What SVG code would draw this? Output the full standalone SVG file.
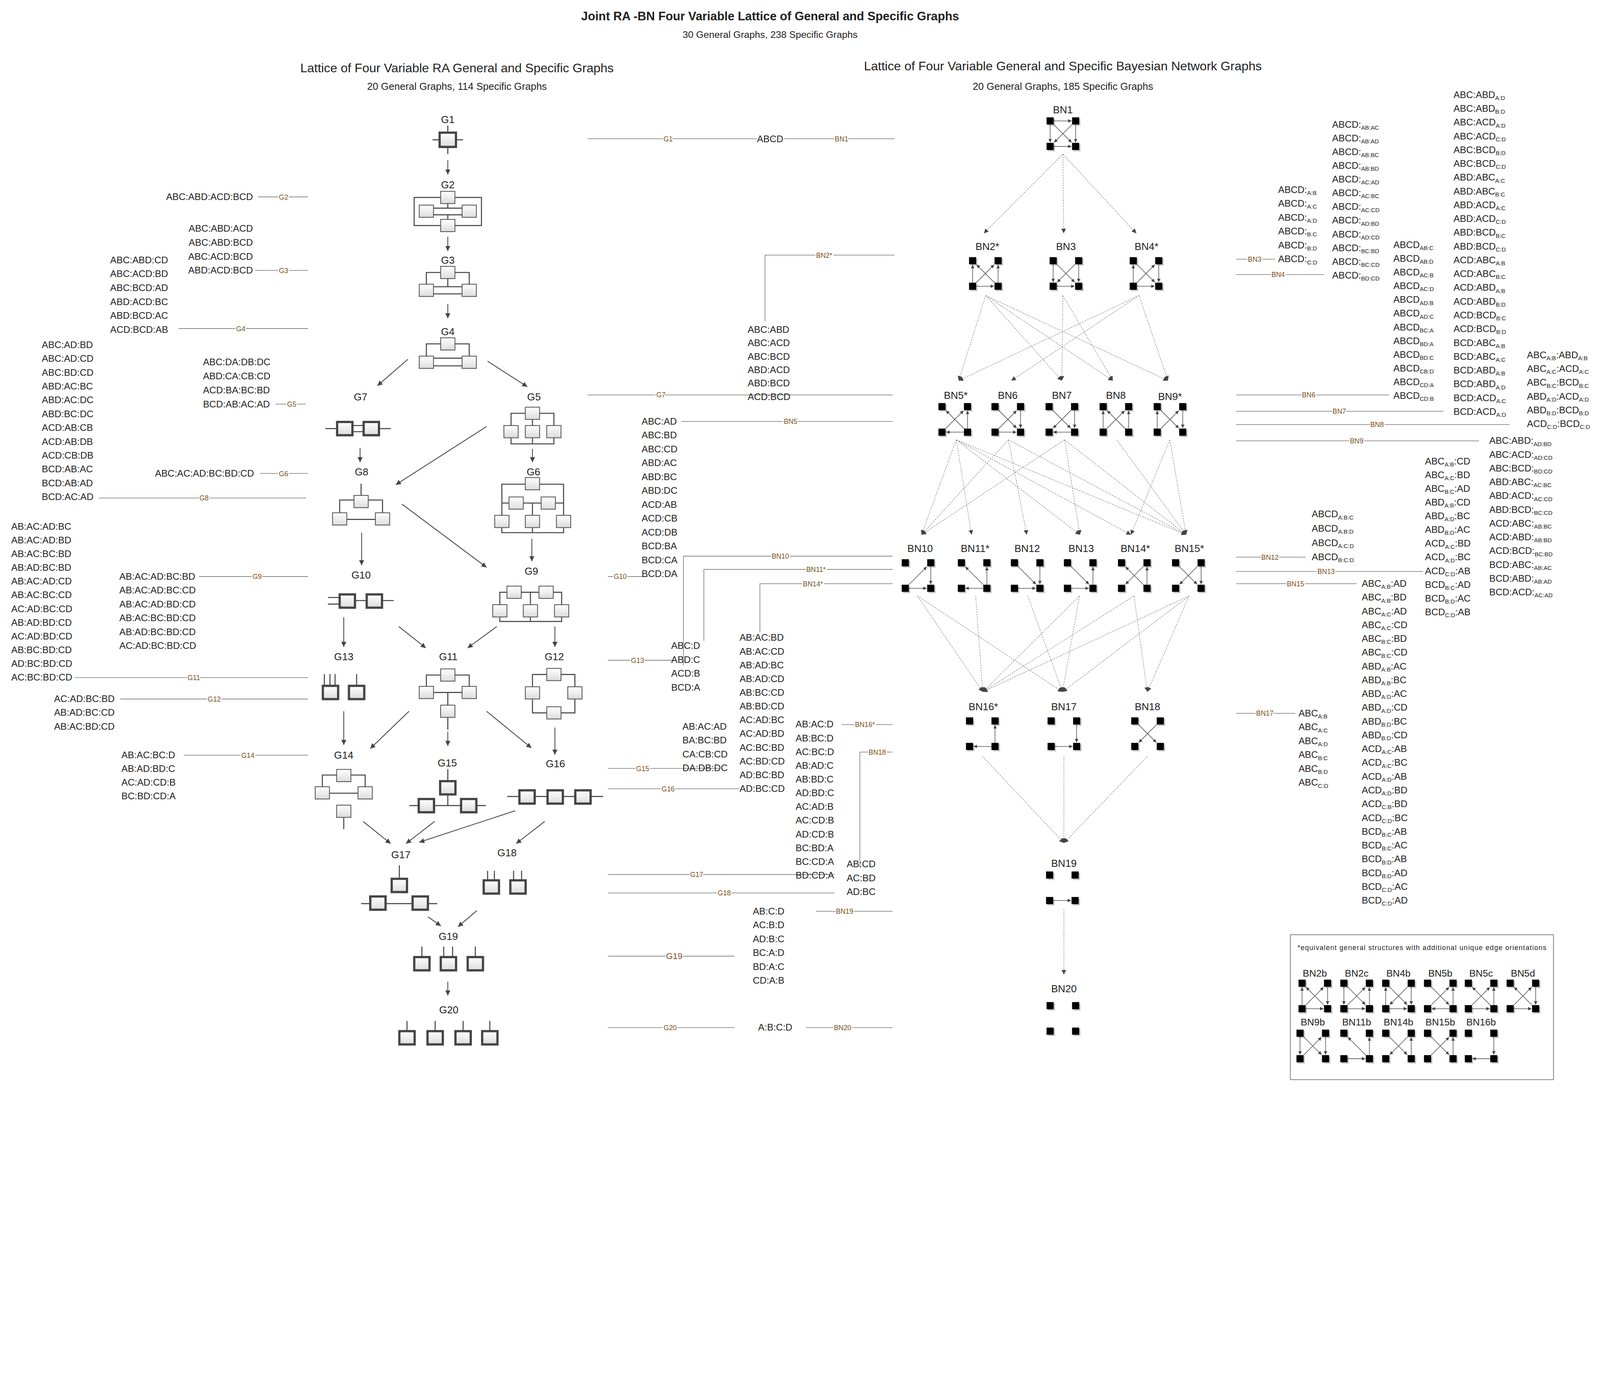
<svg xmlns="http://www.w3.org/2000/svg" width="5241" height="3571" viewBox="0 0 5241 3571">
<style>
.t{font-family:"Liberation Sans",Arial,sans-serif;fill:#222}
.l{font-size:9.3px}
.s{font-size:5.8px}
.c{font-size:6.8px;fill:#7a5020;stroke:#fff;stroke-width:2.2px;paint-order:stroke;text-anchor:middle}
.n{font-size:10px;text-anchor:middle}
.cn{stroke:#777;stroke-width:0.6;fill:none}
.ar{stroke:#444;stroke-width:0.8;fill:none;marker-end:url(#ah)}
.dl{stroke:#888;stroke-width:0.5;stroke-dasharray:1.5 1;fill:none;marker-end:url(#dh)}
.lb{fill:url(#gr);stroke:#555;stroke-width:0.8}
.tb{fill:url(#gr);stroke:#444;stroke-width:2.2}
.rl{stroke:#444;stroke-width:1;fill:none}
.e{stroke:#555;stroke-width:0.6;marker-end:url(#eh)}
</style>
<defs>
<linearGradient id="gr" x1="0" y1="0" x2="0" y2="1"><stop offset="0" stop-color="#fff"/><stop offset="1" stop-color="#dcdcdc"/></linearGradient>
<marker id="eh" viewBox="0 0 10 10" refX="10" refY="5" markerWidth="3.4" markerHeight="3.4" markerUnits="userSpaceOnUse" orient="auto"><path d="M0,0L10,5L0,10z" fill="#444"/></marker>
<marker id="ah" viewBox="0 0 10 10" refX="10" refY="5" markerWidth="5" markerHeight="5" markerUnits="userSpaceOnUse" orient="auto"><path d="M0,0L10,5L0,10z" fill="#444"/></marker>
<marker id="dh" viewBox="0 0 10 10" refX="10" refY="5" markerWidth="4.5" markerHeight="4.5" markerUnits="userSpaceOnUse" orient="auto"><path d="M0,0L10,5L0,10z" fill="#444"/></marker>
<rect id="lb" x="-7" y="-6" width="14" height="12" class="lb"/>
<rect id="tb" x="-7.5" y="-6.5" width="15" height="13" class="tb"/>
<g id="q4"><g fill="#c8c8c8"><rect x="1.3" y="1.3" width="7" height="7"/><rect x="26.3" y="1.3" width="7" height="7"/><rect x="1.3" y="26.3" width="7" height="7"/><rect x="26.3" y="26.3" width="7" height="7"/></g><g fill="#000"><rect width="7" height="7"/><rect x="25" width="7" height="7"/><rect y="25" width="7" height="7"/><rect x="25" y="25" width="7" height="7"/></g></g>
<line id="tlr" class="e" x1="7" y1="3.5" x2="24.5" y2="3.5"/>
<line id="blr" class="e" x1="7" y1="28.5" x2="24.5" y2="28.5"/>
<line id="brl" class="e" x1="25" y1="28.5" x2="7.5" y2="28.5"/>
<line id="ltb" class="e" x1="3.5" y1="7" x2="3.5" y2="24.5"/>
<line id="lbt" class="e" x1="3.5" y1="25" x2="3.5" y2="7.5"/>
<line id="rtb" class="e" x1="28.5" y1="7" x2="28.5" y2="24.5"/>
<line id="rbt" class="e" x1="28.5" y1="25" x2="28.5" y2="7.5"/>
<line id="d1f" class="e" x1="7" y1="7" x2="24.6" y2="24.6"/>
<line id="d1r" class="e" x1="25" y1="25" x2="7.4" y2="7.4"/>
<line id="d2f" class="e" x1="25" y1="7" x2="7.4" y2="24.6"/>
<line id="d2r" class="e" x1="7" y1="25" x2="24.6" y2="7.4"/>
</defs>
<rect width="5241" height="3571" fill="#fff"/>
<g transform="scale(2.6113,2.6122)">
<g class="t">
<text x="755" y="20" font-size="11.8" font-weight="bold" text-anchor="middle">Joint RA -BN Four Variable Lattice of General and Specific Graphs</text>
<text x="755" y="37" font-size="9.5" text-anchor="middle">30 General Graphs, 238 Specific Graphs</text>
<text x="448" y="71" font-size="12.3" text-anchor="middle">Lattice of Four Variable RA General and Specific Graphs</text>
<text x="448" y="88" font-size="9.8" text-anchor="middle">20 General Graphs, 114 Specific Graphs</text>
<text x="1042" y="69" font-size="12.3" text-anchor="middle">Lattice of Four Variable General and Specific Bayesian Network Graphs</text>
<text x="1042" y="88" font-size="9.8" text-anchor="middle">20 General Graphs, 185 Specific Graphs</text>
</g>

<g id="G1"><text class="t n" x="439" y="120.5">G1</text><path class="rl" stroke-width="1.3" d="M439 123V130M439 144V151M424 137H431M447 137H454"/><rect x="431" y="130" width="16" height="14" class="tb"/></g>
<g id="G2"><text class="t n" x="439" y="184.5">G2</text><rect x="406" y="193.5" width="66" height="27.5" class="rl"/><path class="rl" d="M425 204H453M425 210.5H453M439 199.5V204M439 210.5V215"/><use href="#lb" x="439" y="193.5"/><use href="#lb" x="418" y="207"/><use href="#lb" x="460" y="207"/><use href="#lb" x="439" y="221"/></g>
<g id="G3"><text class="t n" x="439" y="258.5">G3</text><path class="rl" d="M418 278.5V267H460V278.5M425 281H453M425 288H453M439 273V281"/><use href="#lb" x="439" y="267"/><use href="#lb" x="418" y="284.5"/><use href="#lb" x="460" y="284.5"/></g>
<g id="G4"><text class="t n" x="439" y="328.5">G4</text><path class="rl" d="M418 349V337H460V349M425 351H453M425 358.5H453"/><use href="#lb" x="439" y="337"/><use href="#lb" x="418" y="355"/><use href="#lb" x="460" y="355"/></g>
<g id="G7"><text class="t n" x="353.5" y="392.5">G7</text><path class="rl" d="M319 420H330.5M345.5 417H356.5M345.5 423H356.5M371.5 420H383"/><use href="#tb" x="338" y="420"/><use href="#tb" x="364" y="420"/></g>
<g id="G5"><text class="t n" x="523.5" y="392.5">G5</text><path class="rl" d="M501 417V405H543V417M522 411V417M501 429V435H543V429M522 429V435"/><use href="#lb" x="522" y="405"/><use href="#lb" x="501" y="423"/><use href="#lb" x="522" y="423"/><use href="#lb" x="543" y="423"/></g>
<g id="G8"><text class="t n" x="354.5" y="466">G8</text><path class="rl" d="M354 474V485.5M333 502.5V490H375V502.5M340 509H368"/><use href="#lb" x="354" y="491.5"/><use href="#lb" x="333" y="508.5"/><use href="#lb" x="375" y="508.5"/></g>
<g id="G6"><text class="t n" x="523" y="466">G6</text><path class="rl" d="M492 505V474.5H552.5V505M492 493H552.5M522 493V505M492 517V522H552.5V517M522 517V522"/><use href="#lb" x="522" y="474"/><use href="#lb" x="506" y="493"/><use href="#lb" x="537.5" y="493"/><use href="#lb" x="492" y="511"/><use href="#lb" x="522" y="511"/><use href="#lb" x="552.5" y="511"/></g>
<g id="G10"><text class="t n" x="354" y="567">G10</text><path class="rl" d="M321.5 585.5H333M321.5 592H333M348 588.5H359.5M374.5 588.5H386"/><use href="#tb" x="340.5" y="589"/><use href="#tb" x="367" y="589"/></g>
<g id="G9"><text class="t n" x="521" y="563">G9</text><path class="rl" d="M490 592.6V580.4H550.6V592.6M520 580.4V609M490 604.6V609H550.6V604.6"/><use href="#lb" x="504" y="580.4"/><use href="#lb" x="535.4" y="580.4"/><use href="#lb" x="490" y="598.6"/><use href="#lb" x="520" y="598.6"/><use href="#lb" x="550.6" y="598.6"/></g>
<g id="G13"><text class="t n" x="337" y="647">G13</text><path class="rl" d="M318 660.6V672M323.5 660.6V672M328.5 660.6V672M349.6 660.6V672"/><use href="#tb" x="324" y="678.6"/><use href="#tb" x="349.6" y="678.6"/></g>
<g id="G11"><text class="t n" x="439.5" y="647">G11</text><path class="rl" d="M418 672.6V661.5H460V672.6M425 678.6H453M439 678.6V691M439 703V715"/><use href="#lb" x="439" y="661.5"/><use href="#lb" x="418" y="678.6"/><use href="#lb" x="460" y="678.6"/><use href="#lb" x="439" y="697"/></g>
<g id="G12"><text class="t n" x="543.4" y="647">G12</text><path class="rl" d="M522 673V661H563.6V673M522 685V698.6H563.6V685"/><use href="#lb" x="543" y="661"/><use href="#lb" x="522" y="679"/><use href="#lb" x="563.6" y="679"/><use href="#lb" x="543" y="698.6"/></g>
<g id="G14"><text class="t n" x="337" y="743.5">G14</text><path class="rl" d="M316 771V759.5H358V771M323 777.3H351M337 801V812.5"/><use href="#lb" x="337" y="760"/><use href="#lb" x="316" y="777"/><use href="#lb" x="358" y="777"/><use href="#lb" x="337" y="795"/></g>
<g id="G15"><text class="t n" x="438.5" y="751">G15</text><path class="rl" d="M439 753.7V765.5M401.3 789.4H476.3M439 778.5V789.4"/><use href="#tb" x="439" y="772"/><use href="#tb" x="418" y="789.5"/><use href="#tb" x="459.5" y="789.5"/></g>
<g id="G16"><text class="t n" x="544.5" y="752">G16</text><path class="rl" d="M497.3 780.5H591.3"/><use href="#tb" x="516.7" y="781"/><use href="#tb" x="544.3" y="781"/><use href="#tb" x="571.5" y="781"/></g>
<g id="G17"><text class="t n" x="393" y="841">G17</text><path class="rl" d="M391.5 848V861M354 885.5H428.6"/><use href="#tb" x="391.5" y="867.7"/><use href="#tb" x="370.5" y="885"/><use href="#tb" x="412" y="885"/></g>
<g id="G18"><text class="t n" x="497" y="839">G18</text><path class="rl" d="M478 853.3V862.7M484.7 853.3V862.7M503.5 853.3V862.7M511.3 853.3V862.7"/><use href="#tb" x="481.7" y="869.2"/><use href="#tb" x="507.8" y="869.2"/></g>
<g id="G19"><text class="t n" x="439.5" y="921">G19</text><path class="rl" d="M413.6 927.6V938M435 927.6V938M443.7 927.6V938M466 927.6V938"/><use href="#tb" x="413.6" y="944.4"/><use href="#tb" x="439.6" y="944.4"/><use href="#tb" x="466" y="944.4"/></g>
<g id="G20"><text class="t n" x="440" y="993">G20</text><path class="rl" d="M399 1000.5V1010.5M426.6 1000.5V1010.5M454 1000.5V1010.5M480.2 1000.5V1010.5"/><use href="#tb" x="399" y="1017"/><use href="#tb" x="426.6" y="1017"/><use href="#tb" x="454" y="1017"/><use href="#tb" x="480.2" y="1017"/></g>

<g id="BN1"><text class="t n" x="1042" y="111">BN1</text><g transform="translate(1026,115)"><use href="#q4"/><use href="#tlr"/><use href="#ltb"/><use href="#rtb"/><use href="#d1f"/><use href="#d2f"/><use href="#blr"/></g></g>
<g id="BN2"><text class="t n" x="968" y="245">BN2*</text><g transform="translate(950,252)"><use href="#q4"/><use href="#lbt"/><use href="#d1r"/><use href="#d2r"/><use href="#rbt"/><use href="#blr"/></g></g>
<g id="BN3"><text class="t n" x="1045" y="245">BN3</text><g transform="translate(1029,252)"><use href="#q4"/><use href="#ltb"/><use href="#d1f"/><use href="#d2f"/><use href="#rtb"/><use href="#blr"/></g></g>
<g id="BN4"><text class="t n" x="1124" y="245">BN4*</text><g transform="translate(1107.5,252)"><use href="#q4"/><use href="#lbt"/><use href="#d1f"/><use href="#d2r"/><use href="#rtb"/><use href="#blr"/></g></g>
<g id="BN5"><text class="t n" x="937" y="391">BN5*</text><g transform="translate(920,395)"><use href="#q4"/><use href="#d1r"/><use href="#d2r"/><use href="#rbt"/><use href="#brl"/></g></g>
<g id="BN6"><text class="t n" x="988" y="391">BN6</text><g transform="translate(972,395)"><use href="#q4"/><use href="#d1f"/><use href="#d2r"/><use href="#rtb"/><use href="#blr"/></g></g>
<g id="BN7"><text class="t n" x="1041" y="391">BN7</text><g transform="translate(1025,395)"><use href="#q4"/><use href="#d1f"/><use href="#d2f"/><use href="#rtb"/><use href="#brl"/></g></g>
<g id="BN8"><text class="t n" x="1094" y="391">BN8</text><g transform="translate(1078,395)"><use href="#q4"/><use href="#lbt"/><use href="#d1r"/><use href="#d2r"/><use href="#rbt"/></g></g>
<g id="BN9"><text class="t n" x="1147" y="392">BN9*</text><g transform="translate(1131,395)"><use href="#q4"/><use href="#lbt"/><use href="#d1f"/><use href="#d2r"/><use href="#rtb"/></g></g>
<g id="BN10"><text class="t n" x="902" y="541">BN10</text><g transform="translate(884,548)"><use href="#q4"/><use href="#d2r"/><use href="#rtb"/><use href="#blr"/></g></g>
<g id="BN11"><text class="t n" x="956" y="541">BN11*</text><g transform="translate(939,548)"><use href="#q4"/><use href="#d1r"/><use href="#rbt"/><use href="#brl"/></g></g>
<g id="BN12"><text class="t n" x="1007" y="541">BN12</text><g transform="translate(991,548)"><use href="#q4"/><use href="#d1f"/><use href="#rtb"/><use href="#blr"/></g></g>
<g id="BN13"><text class="t n" x="1060" y="541">BN13</text><g transform="translate(1043,548)"><use href="#q4"/><use href="#d1f"/><use href="#rbt"/><use href="#blr"/></g></g>
<g id="BN14"><text class="t n" x="1113" y="541">BN14*</text><g transform="translate(1096,548)"><use href="#q4"/><use href="#d1r"/><use href="#d2f"/><use href="#rbt"/></g></g>
<g id="BN15"><text class="t n" x="1166" y="541">BN15*</text><g transform="translate(1149,548)"><use href="#q4"/><use href="#d1f"/><use href="#d2f"/><use href="#rtb"/></g></g>
<g id="BN16"><text class="t n" x="964" y="696">BN16*</text><g transform="translate(947,703)"><use href="#q4"/><use href="#rbt"/><use href="#brl"/></g></g>
<g id="BN17"><text class="t n" x="1043" y="696">BN17</text><g transform="translate(1027,703)"><use href="#q4"/><use href="#rtb"/><use href="#blr"/></g></g>
<g id="BN18"><text class="t n" x="1125" y="696">BN18</text><g transform="translate(1109,703)"><use href="#q4"/><use href="#d1f"/><use href="#d2f"/></g></g>
<g id="BN19"><text class="t n" x="1043" y="849.5">BN19</text><g transform="translate(1025.5,854)"><use href="#q4"/><use href="#blr"/></g></g>
<g id="BN20"><text class="t n" x="1043" y="972.5">BN20</text><g transform="translate(1026,982)"><use href="#q4"/></g></g>

<g id="legend">
<rect x="1265" y="916" width="258" height="142" fill="none" stroke="#888" stroke-width="0.8"/>
<text class="t" x="1272" y="931" font-size="6.8" textLength="244">*equivalent general structures with additional unique edge orientations</text>
<g class="t" font-size="9.5" text-anchor="middle"><text x="1289" y="957">BN2b</text><text x="1330" y="957">BN2c</text><text x="1371" y="957">BN4b</text><text x="1412" y="957">BN5b</text><text x="1452" y="957">BN5c</text><text x="1493" y="957">BN5d</text><text x="1287" y="1005">BN9b</text><text x="1330" y="1005">BN11b</text><text x="1371" y="1005">BN14b</text><text x="1412" y="1005">BN15b</text><text x="1452" y="1005">BN16b</text></g>
<g transform="translate(1273,960)"><use href="#q4"/><use href="#lbt"/><use href="#d1r"/><use href="#d2r"/><use href="#rtb"/><use href="#blr"/></g>
<g transform="translate(1314,960)"><use href="#q4"/><use href="#ltb"/><use href="#d1f"/><use href="#d2r"/><use href="#rbt"/><use href="#blr"/></g>
<g transform="translate(1355,960)"><use href="#q4"/><use href="#lbt"/><use href="#d1f"/><use href="#d2f"/><use href="#rtb"/><use href="#blr"/></g>
<g transform="translate(1396,960)"><use href="#q4"/><use href="#d1f"/><use href="#d2r"/><use href="#rbt"/><use href="#brl"/></g>
<g transform="translate(1436,960)"><use href="#q4"/><use href="#d1r"/><use href="#d2r"/><use href="#rbt"/><use href="#blr"/></g>
<g transform="translate(1477,960)"><use href="#q4"/><use href="#d1r"/><use href="#d2r"/><use href="#rtb"/><use href="#blr"/></g>
<g transform="translate(1271,1009)"><use href="#q4"/><use href="#ltb"/><use href="#d1f"/><use href="#d2r"/><use href="#rtb"/></g>
<g transform="translate(1314,1009)"><use href="#q4"/><use href="#d1r"/><use href="#rbt"/><use href="#blr"/></g>
<g transform="translate(1355,1009)"><use href="#q4"/><use href="#d1f"/><use href="#d2f"/><use href="#rbt"/></g>
<g transform="translate(1396,1009)"><use href="#q4"/><use href="#d1f"/><use href="#d2r"/><use href="#rbt"/></g>
<g transform="translate(1436,1009)"><use href="#q4"/><use href="#rtb"/><use href="#brl"/></g>
</g>

<g id="connectors">
<g class="ar">
<line x1="439" y1="157" x2="439" y2="171"/><line x1="439" y1="232" x2="439" y2="246"/><line x1="439" y1="298" x2="439" y2="312"/>
<line x1="400" y1="352" x2="370" y2="378"/><line x1="478" y1="354" x2="517" y2="379"/>
<line x1="353" y1="439" x2="353" y2="453"/><line x1="477" y1="418" x2="388" y2="475"/><line x1="522" y1="440" x2="522" y2="453"/>
<line x1="354.5" y1="522" x2="354.5" y2="554"/><line x1="394" y1="494" x2="477" y2="556"/><line x1="521.4" y1="528" x2="521.4" y2="550"/>
<line x1="337" y1="605" x2="337" y2="634"/><line x1="391" y1="614" x2="417.5" y2="635"/><line x1="487" y1="614" x2="458.4" y2="635"/><line x1="544" y1="614" x2="544" y2="634"/>
<line x1="337" y1="697" x2="337" y2="730"/><line x1="401" y1="697" x2="363" y2="733.6"/><line x1="439" y1="717" x2="439" y2="731"/><line x1="477" y1="697" x2="521" y2="733"/><line x1="544" y1="713" x2="544" y2="739.6"/>
<line x1="356" y1="805" x2="383" y2="826.7"/><line x1="426" y1="805" x2="398" y2="826.7"/><line x1="505" y1="794.5" x2="411" y2="825.4"/><line x1="534" y1="805" x2="506" y2="826.7"/>
<line x1="419.6" y1="898.4" x2="432.2" y2="907.4"/><line x1="467.5" y1="892.4" x2="449" y2="908.2"/><line x1="439" y1="962" x2="439" y2="975.6"/>
</g>
<g class="dl">
<line x1="1042" y1="151" x2="964.5" y2="228.6"/><line x1="1042" y1="151" x2="1042.8" y2="228.6"/><line x1="1042" y1="151" x2="1114" y2="228.6"/>
<line x1="966.4" y1="289.6" x2="939.8" y2="373"/><line x1="966.4" y1="289.6" x2="1041" y2="373"/><line x1="966.4" y1="289.6" x2="1091" y2="373"/><line x1="966.4" y1="289.6" x2="1145" y2="373"/>
<line x1="1042" y1="289.6" x2="1041" y2="373"/><line x1="1042" y1="289.6" x2="1091" y2="373"/>
<line x1="1116.7" y1="289.6" x2="939.8" y2="373"/><line x1="1116.7" y1="289.6" x2="991.4" y2="373"/><line x1="1116.7" y1="289.6" x2="1145" y2="373"/>
<line x1="937.5" y1="431" x2="903.4" y2="524"/><line x1="937.5" y1="431" x2="952.5" y2="524"/><line x1="937.5" y1="431" x2="1058.7" y2="524"/><line x1="937.5" y1="431" x2="1108.7" y2="524"/><line x1="937.5" y1="431" x2="1162.8" y2="524"/>
<line x1="988.6" y1="431" x2="903.4" y2="524"/><line x1="988.6" y1="431" x2="1006.6" y2="524"/><line x1="988.6" y1="431" x2="1162.8" y2="524"/>
<line x1="1043.7" y1="431" x2="903.4" y2="524"/><line x1="1043.7" y1="431" x2="1058.7" y2="524"/><line x1="1043.7" y1="431" x2="1162.8" y2="524"/>
<line x1="1094.7" y1="431" x2="1162.8" y2="524"/>
<line x1="1146.8" y1="431" x2="1108.7" y2="524"/><line x1="1146.8" y1="431" x2="1162.8" y2="524"/>
<line x1="899.4" y1="584" x2="963.5" y2="678"/><line x1="899.4" y1="584" x2="1041.6" y2="678"/>
<line x1="956.5" y1="584" x2="963.5" y2="678"/>
<line x1="1007.6" y1="584" x2="1041.6" y2="678"/>
<line x1="1058.3" y1="584" x2="963.5" y2="678"/><line x1="1058.3" y1="584" x2="1041.6" y2="678"/>
<line x1="1111.7" y1="584" x2="963.5" y2="678"/><line x1="1111.7" y1="584" x2="1124.8" y2="678"/>
<line x1="1165.8" y1="584" x2="963.5" y2="678"/><line x1="1165.8" y1="584" x2="1041.6" y2="678"/><line x1="1165.8" y1="584" x2="1124.8" y2="678"/>
<line x1="963" y1="741" x2="1043" y2="826"/><line x1="1043" y1="741" x2="1043" y2="826"/><line x1="1125" y1="741" x2="1043" y2="826"/>
<line x1="1043" y1="891" x2="1043" y2="955"/>
</g>
<g class="cn">
<line x1="253" y1="193" x2="302" y2="193"/><line x1="250" y1="265" x2="302" y2="265"/><line x1="175" y1="322" x2="302" y2="322"/><line x1="270" y1="396" x2="300" y2="396"/><line x1="255" y1="464" x2="302" y2="464"/><line x1="97" y1="488" x2="300" y2="488"/><line x1="195" y1="565" x2="302" y2="565"/><line x1="73" y1="664" x2="302" y2="664"/><line x1="118" y1="685" x2="302" y2="685"/><line x1="180" y1="740" x2="302" y2="740"/>
<line x1="576" y1="136" x2="877" y2="136"/><path d="M877 250H750V315"/><line x1="576" y1="387" x2="875" y2="387"/><line x1="668" y1="413" x2="875" y2="413"/><line x1="596" y1="565" x2="635" y2="565"/>
<path d="M875 545H670V652"/><path d="M875 558H690V628"/><path d="M875 572H745V620"/>
<line x1="596" y1="647" x2="660" y2="647"/><line x1="596" y1="753" x2="705" y2="753"/><line x1="596" y1="773" x2="725" y2="773"/><line x1="825" y1="710" x2="875" y2="710"/><path d="M875 737H843V850"/>
<line x1="596" y1="857" x2="818" y2="857"/><line x1="596" y1="875" x2="818" y2="875"/><line x1="800" y1="893" x2="875" y2="893"/><line x1="596" y1="937" x2="720" y2="937"/><line x1="596" y1="1007" x2="720" y2="1007"/><line x1="790" y1="1007" x2="875" y2="1007"/>
<line x1="1212" y1="254" x2="1250" y2="254"/><line x1="1212" y1="269" x2="1298" y2="269"/><line x1="1212" y1="387" x2="1362" y2="387"/><line x1="1212" y1="403" x2="1415" y2="403"/><line x1="1212" y1="416" x2="1480" y2="416"/><line x1="1212" y1="432" x2="1450" y2="432"/><line x1="1212" y1="546" x2="1280" y2="546"/><line x1="1212" y1="560" x2="1395" y2="560"/><line x1="1212" y1="572" x2="1330" y2="572"/><line x1="1212" y1="699" x2="1270" y2="699"/>
</g>
<g class="t c">
<text x="278" y="195.5">G2</text><text x="278" y="267.5">G3</text><text x="236" y="324.5">G4</text><text x="286" y="398.5">G5</text><text x="278" y="466.5">G6</text><text x="200" y="490.5">G8</text><text x="252" y="567.5">G9</text><text x="190" y="666.5">G11</text><text x="210" y="687.5">G12</text><text x="243" y="742.5">G14</text>
<text x="655" y="138.5">G1</text><text x="825" y="138.5">BN1</text><text x="808" y="252.5">BN2*</text><text x="648" y="389.5">G7</text><text x="775" y="415.5">BN5</text><text x="608" y="567.5">G10</text><text x="765" y="547.5">BN10</text><text x="800" y="560.5">BN11*</text><text x="797" y="574.5">BN14*</text><text x="625" y="649.5">G13</text><text x="630" y="755.5">G15</text><text x="655" y="775.5">G16</text><text x="848" y="712.5">BN16*</text><text x="860" y="739.5">BN18</text><text x="683" y="859.5">G17</text><text x="710" y="877.5">G18</text><text x="828" y="895.5">BN19</text><text x="661" y="940" font-size="8.5">G19</text><text x="657" y="1009.5">G20</text><text x="826" y="1009.5">BN20</text>
<text x="1230" y="256.5">BN3</text><text x="1253" y="271.5">BN4</text><text x="1283" y="389.5">BN6</text><text x="1313" y="405.5">BN7</text><text x="1350" y="418.5">BN8</text><text x="1330" y="434.5">BN9</text><text x="1245" y="548.5">BN12</text><text x="1300" y="562.5">BN13</text><text x="1270" y="574.5">BN15</text><text x="1240" y="701.5">BN17</text>
</g>
<text class="t l" x="755" y="139.5" text-anchor="middle" stroke="#fff" stroke-width="2.5" paint-order="stroke">ABCD</text>
<text class="t l" x="760" y="1010" text-anchor="middle" stroke="#fff" stroke-width="2.5" paint-order="stroke">A:B:C:D</text>
</g>

<g class="t l">
<text x="248" y="196" text-anchor="end">ABC:ABD:ACD:BCD</text>
<text text-anchor="end"><tspan x="248" y="227">ABC:ABD:ACD</tspan><tspan x="248" dy="13.7">ABC:ABD:BCD</tspan><tspan x="248" dy="13.7">ABC:ACD:BCD</tspan><tspan x="248" dy="13.7">ABD:ACD:BCD</tspan></text>
<text><tspan x="108" y="258">ABC:ABD:CD</tspan><tspan x="108" dy="13.6">ABC:ACD:BD</tspan><tspan x="108" dy="13.6">ABC:BCD:AD</tspan><tspan x="108" dy="13.6">ABD:ACD:BC</tspan><tspan x="108" dy="13.6">ABD:BCD:AC</tspan><tspan x="108" dy="13.6">ACD:BCD:AB</tspan></text>
<text><tspan x="41" y="341">ABC:AD:BD</tspan><tspan x="41" dy="13.55">ABC:AD:CD</tspan><tspan x="41" dy="13.55">ABC:BD:CD</tspan><tspan x="41" dy="13.55">ABD:AC:BC</tspan><tspan x="41" dy="13.55">ABD:AC:DC</tspan><tspan x="41" dy="13.55">ABD:BC:DC</tspan><tspan x="41" dy="13.55">ACD:AB:CB</tspan><tspan x="41" dy="13.55">ACD:AB:DB</tspan><tspan x="41" dy="13.55">ACD:CB:DB</tspan><tspan x="41" dy="13.55">BCD:AB:AC</tspan><tspan x="41" dy="13.55">BCD:AB:AD</tspan><tspan x="41" dy="13.55">BCD:AC:AD</tspan></text>
<text><tspan x="199" y="358">ABC:DA:DB:DC</tspan><tspan x="199" dy="13.7">ABD:CA:CB:CD</tspan><tspan x="199" dy="13.7">ACD:BA:BC:BD</tspan><tspan x="199" dy="13.7">BCD:AB:AC:AD</tspan></text>
<text x="249" y="467" text-anchor="end">ABC:AC:AD:BC:BD:CD</text>
<text><tspan x="11" y="519">AB:AC:AD:BC</tspan><tspan x="11" dy="13.45">AB:AC:AD:BD</tspan><tspan x="11" dy="13.45">AB:AC:BC:BD</tspan><tspan x="11" dy="13.45">AB:AD:BC:BD</tspan><tspan x="11" dy="13.45">AB:AC:AD:CD</tspan><tspan x="11" dy="13.45">AB:AC:BC:CD</tspan><tspan x="11" dy="13.45">AC:AD:BC:CD</tspan><tspan x="11" dy="13.45">AB:AD:BD:CD</tspan><tspan x="11" dy="13.45">AC:AD:BD:CD</tspan><tspan x="11" dy="13.45">AB:BC:BD:CD</tspan><tspan x="11" dy="13.45">AD:BC:BD:CD</tspan><tspan x="11" dy="13.45">AC:BC:BD:CD</tspan></text>
<text><tspan x="117" y="568">AB:AC:AD:BC:BD</tspan><tspan x="117" dy="13.6">AB:AC:AD:BC:CD</tspan><tspan x="117" dy="13.6">AB:AC:AD:BD:CD</tspan><tspan x="117" dy="13.6">AB:AC:BC:BD:CD</tspan><tspan x="117" dy="13.6">AB:AD:BC:BD:CD</tspan><tspan x="117" dy="13.6">AC:AD:BC:BD:CD</tspan></text>
<text><tspan x="53" y="688">AC:AD:BC:BD</tspan><tspan x="53" dy="13.5">AB:AD:BC:CD</tspan><tspan x="53" dy="13.5">AB:AC:BD:CD</tspan></text>
<text><tspan x="119" y="743">AB:AC:BC:D</tspan><tspan x="119" dy="13.4">AB:AD:BD:C</tspan><tspan x="119" dy="13.4">AC:AD:CD:B</tspan><tspan x="119" dy="13.4">BC:BD:CD:A</tspan></text>
<text><tspan x="733" y="326">ABC:ABD</tspan><tspan x="733" dy="13.2">ABC:ACD</tspan><tspan x="733" dy="13.2">ABC:BCD</tspan><tspan x="733" dy="13.2">ABD:ACD</tspan><tspan x="733" dy="13.2">ABD:BCD</tspan><tspan x="733" dy="13.2">ACD:BCD</tspan></text>
<text><tspan x="629" y="416">ABC:AD</tspan><tspan x="629" dy="13.6">ABC:BD</tspan><tspan x="629" dy="13.6">ABC:CD</tspan><tspan x="629" dy="13.6">ABD:AC</tspan><tspan x="629" dy="13.6">ABD:BC</tspan><tspan x="629" dy="13.6">ABD:DC</tspan><tspan x="629" dy="13.6">ACD:AB</tspan><tspan x="629" dy="13.6">ACD:CB</tspan><tspan x="629" dy="13.6">ACD:DB</tspan><tspan x="629" dy="13.6">BCD:BA</tspan><tspan x="629" dy="13.6">BCD:CA</tspan><tspan x="629" dy="13.6">BCD:DA</tspan></text>
<text><tspan x="658" y="636">ABC:D</tspan><tspan x="658" dy="13.6">ABD:C</tspan><tspan x="658" dy="13.6">ACD:B</tspan><tspan x="658" dy="13.6">BCD:A</tspan></text>
<text><tspan x="669" y="715">AB:AC:AD</tspan><tspan x="669" dy="13.6">BA:BC:BD</tspan><tspan x="669" dy="13.6">CA:CB:CD</tspan><tspan x="669" dy="13.6">DA:DB:DC</tspan></text>
<text><tspan x="725" y="628">AB:AC:BD</tspan><tspan x="725" dy="13.45">AB:AC:CD</tspan><tspan x="725" dy="13.45">AB:AD:BC</tspan><tspan x="725" dy="13.45">AB:AD:CD</tspan><tspan x="725" dy="13.45">AB:BC:CD</tspan><tspan x="725" dy="13.45">AB:BD:CD</tspan><tspan x="725" dy="13.45">AC:AD:BC</tspan><tspan x="725" dy="13.45">AC:AD:BD</tspan><tspan x="725" dy="13.45">AC:BC:BD</tspan><tspan x="725" dy="13.45">AC:BD:CD</tspan><tspan x="725" dy="13.45">AD:BC:BD</tspan><tspan x="725" dy="13.45">AD:BC:CD</tspan></text>
<text><tspan x="780" y="713">AB:AC:D</tspan><tspan x="780" dy="13.45">AB:BC:D</tspan><tspan x="780" dy="13.45">AC:BC:D</tspan><tspan x="780" dy="13.45">AB:AD:C</tspan><tspan x="780" dy="13.45">AB:BD:C</tspan><tspan x="780" dy="13.45">AD:BD:C</tspan><tspan x="780" dy="13.45">AC:AD:B</tspan><tspan x="780" dy="13.45">AC:CD:B</tspan><tspan x="780" dy="13.45">AD:CD:B</tspan><tspan x="780" dy="13.45">BC:BD:A</tspan><tspan x="780" dy="13.45">BC:CD:A</tspan><tspan x="780" dy="13.45">BD:CD:A</tspan></text>
<text><tspan x="830" y="850">AB:CD</tspan><tspan x="830" dy="13.5">AC:BD</tspan><tspan x="830" dy="13.5">AD:BC</tspan></text>
<text><tspan x="738" y="896">AB:C:D</tspan><tspan x="738" dy="13.6">AC:B:D</tspan><tspan x="738" dy="13.6">AD:B:C</tspan><tspan x="738" dy="13.6">BC:A:D</tspan><tspan x="738" dy="13.6">BD:A:C</tspan><tspan x="738" dy="13.6">CD:A:B</tspan></text>
</g>

<g class="t l">
<text x="1253" y="189">ABCD:<tspan class="s" dy="2">A:B</tspan></text>
<text x="1253" y="202.6">ABCD:<tspan class="s" dy="2">A:C</tspan></text>
<text x="1253" y="216.2">ABCD:<tspan class="s" dy="2">A:D</tspan></text>
<text x="1253" y="229.8">ABCD:<tspan class="s" dy="2">B:C</tspan></text>
<text x="1253" y="243.4">ABCD:<tspan class="s" dy="2">B:D</tspan></text>
<text x="1253" y="257">ABCD:<tspan class="s" dy="2">C:D</tspan></text>
<text x="1306" y="125">ABCD:<tspan class="s" dy="2">AB:AC</tspan></text>
<text x="1306" y="138.45">ABCD:<tspan class="s" dy="2">AB:AD</tspan></text>
<text x="1306" y="151.9">ABCD:<tspan class="s" dy="2">AB:BC</tspan></text>
<text x="1306" y="165.35">ABCD:<tspan class="s" dy="2">AB:BD</tspan></text>
<text x="1306" y="178.8">ABCD:<tspan class="s" dy="2">AC:AD</tspan></text>
<text x="1306" y="192.25">ABCD:<tspan class="s" dy="2">AC:BC</tspan></text>
<text x="1306" y="205.7">ABCD:<tspan class="s" dy="2">AC:CD</tspan></text>
<text x="1306" y="219.15">ABCD:<tspan class="s" dy="2">AD:BD</tspan></text>
<text x="1306" y="232.6">ABCD:<tspan class="s" dy="2">AD:CD</tspan></text>
<text x="1306" y="246.05">ABCD:<tspan class="s" dy="2">BC:BD</tspan></text>
<text x="1306" y="259.5">ABCD:<tspan class="s" dy="2">BC:CD</tspan></text>
<text x="1306" y="272.95">ABCD:<tspan class="s" dy="2">BD:CD</tspan></text>
<text x="1366" y="243">ABCD<tspan class="s" dy="2">AB:C</tspan></text>
<text x="1366" y="256.45">ABCD<tspan class="s" dy="2">AB:D</tspan></text>
<text x="1366" y="269.9">ABCD<tspan class="s" dy="2">AC:B</tspan></text>
<text x="1366" y="283.35">ABCD<tspan class="s" dy="2">AC:D</tspan></text>
<text x="1366" y="296.8">ABCD<tspan class="s" dy="2">AD:B</tspan></text>
<text x="1366" y="310.25">ABCD<tspan class="s" dy="2">AD:C</tspan></text>
<text x="1366" y="323.7">ABCD<tspan class="s" dy="2">BC:A</tspan></text>
<text x="1366" y="337.15">ABCD<tspan class="s" dy="2">BD:A</tspan></text>
<text x="1366" y="350.6">ABCD<tspan class="s" dy="2">BD:C</tspan></text>
<text x="1366" y="364.05">ABCD<tspan class="s" dy="2">CB:D</tspan></text>
<text x="1366" y="377.5">ABCD<tspan class="s" dy="2">CD:A</tspan></text>
<text x="1366" y="390.95">ABCD<tspan class="s" dy="2">CD:B</tspan></text>
<text x="1425" y="96">ABC:ABD<tspan class="s" dy="2">A:D</tspan></text>
<text x="1425" y="109.5">ABC:ABD<tspan class="s" dy="2">B:D</tspan></text>
<text x="1425" y="123">ABC:ACD<tspan class="s" dy="2">A:D</tspan></text>
<text x="1425" y="136.5">ABC:ACD<tspan class="s" dy="2">C:D</tspan></text>
<text x="1425" y="150">ABC:BCD<tspan class="s" dy="2">B:D</tspan></text>
<text x="1425" y="163.5">ABC:BCD<tspan class="s" dy="2">C:D</tspan></text>
<text x="1425" y="177">ABD:ABC<tspan class="s" dy="2">A:C</tspan></text>
<text x="1425" y="190.5">ABD:ABC<tspan class="s" dy="2">B:C</tspan></text>
<text x="1425" y="204">ABD:ACD<tspan class="s" dy="2">A:C</tspan></text>
<text x="1425" y="217.5">ABD:ACD<tspan class="s" dy="2">C:D</tspan></text>
<text x="1425" y="231">ABD:BCD<tspan class="s" dy="2">B:C</tspan></text>
<text x="1425" y="244.5">ABD:BCD<tspan class="s" dy="2">C:D</tspan></text>
<text x="1425" y="258">ACD:ABC<tspan class="s" dy="2">A:B</tspan></text>
<text x="1425" y="271.5">ACD:ABC<tspan class="s" dy="2">B:C</tspan></text>
<text x="1425" y="285">ACD:ABD<tspan class="s" dy="2">A:B</tspan></text>
<text x="1425" y="298.5">ACD:ABD<tspan class="s" dy="2">B:D</tspan></text>
<text x="1425" y="312">ACD:BCD<tspan class="s" dy="2">B:C</tspan></text>
<text x="1425" y="325.5">ACD:BCD<tspan class="s" dy="2">B:D</tspan></text>
<text x="1425" y="339">BCD:ABC<tspan class="s" dy="2">A:B</tspan></text>
<text x="1425" y="352.5">BCD:ABC<tspan class="s" dy="2">A:C</tspan></text>
<text x="1425" y="366">BCD:ABD<tspan class="s" dy="2">A:B</tspan></text>
<text x="1425" y="379.5">BCD:ABD<tspan class="s" dy="2">A:D</tspan></text>
<text x="1425" y="393">BCD:ACD<tspan class="s" dy="2">A:C</tspan></text>
<text x="1425" y="406.5">BCD:ACD<tspan class="s" dy="2">A:D</tspan></text>
<text x="1497" y="351">ABC<tspan class="s" dy="2">A:B</tspan><tspan dy="-2">:ABD</tspan><tspan class="s" dy="2">A:B</tspan></text>
<text x="1497" y="364.5">ABC<tspan class="s" dy="2">A:C</tspan><tspan dy="-2">:ACD</tspan><tspan class="s" dy="2">A:C</tspan></text>
<text x="1497" y="378">ABC<tspan class="s" dy="2">B:C</tspan><tspan dy="-2">:BCD</tspan><tspan class="s" dy="2">B:C</tspan></text>
<text x="1497" y="391.5">ABD<tspan class="s" dy="2">A:D</tspan><tspan dy="-2">:ACD</tspan><tspan class="s" dy="2">A:D</tspan></text>
<text x="1497" y="405">ABD<tspan class="s" dy="2">B:D</tspan><tspan dy="-2">:BCD</tspan><tspan class="s" dy="2">B:D</tspan></text>
<text x="1497" y="418.5">ACD<tspan class="s" dy="2">C:D</tspan><tspan dy="-2">:BCD</tspan><tspan class="s" dy="2">C:D</tspan></text>
<text x="1460" y="435">ABC:ABD:<tspan class="s" dy="2">AD:BD</tspan></text>
<text x="1460" y="448.5">ABC:ACD:<tspan class="s" dy="2">AD:CD</tspan></text>
<text x="1460" y="462">ABC:BCD:<tspan class="s" dy="2">BD:CD</tspan></text>
<text x="1460" y="475.5">ABD:ABC:<tspan class="s" dy="2">AC:BC</tspan></text>
<text x="1460" y="489">ABD:ACD:<tspan class="s" dy="2">AC:CD</tspan></text>
<text x="1460" y="502.5">ABD:BCD:<tspan class="s" dy="2">BC:CD</tspan></text>
<text x="1460" y="516">ACD:ABC:<tspan class="s" dy="2">AB:BC</tspan></text>
<text x="1460" y="529.5">ACD:ABD:<tspan class="s" dy="2">AB:BD</tspan></text>
<text x="1460" y="543">ACD:BCD:<tspan class="s" dy="2">BC:BD</tspan></text>
<text x="1460" y="556.5">BCD:ABC:<tspan class="s" dy="2">AB:AC</tspan></text>
<text x="1460" y="570">BCD:ABD:<tspan class="s" dy="2">AB:AD</tspan></text>
<text x="1460" y="583.5">BCD:ACD:<tspan class="s" dy="2">AC:AD</tspan></text>
<text x="1286" y="507">ABCD<tspan class="s" dy="2">A:B:C</tspan></text>
<text x="1286" y="521">ABCD<tspan class="s" dy="2">A:B:D</tspan></text>
<text x="1286" y="535">ABCD<tspan class="s" dy="2">A:C:D</tspan></text>
<text x="1286" y="549">ABCD<tspan class="s" dy="2">B:C:D</tspan></text>
<text x="1397" y="455">ABC<tspan class="s" dy="2">A:B</tspan><tspan dy="-2">:CD</tspan></text>
<text x="1397" y="468.45">ABC<tspan class="s" dy="2">A:C</tspan><tspan dy="-2">:BD</tspan></text>
<text x="1397" y="481.9">ABC<tspan class="s" dy="2">B:C</tspan><tspan dy="-2">:AD</tspan></text>
<text x="1397" y="495.35">ABD<tspan class="s" dy="2">A:B</tspan><tspan dy="-2">:CD</tspan></text>
<text x="1397" y="508.8">ABD<tspan class="s" dy="2">A:D</tspan><tspan dy="-2">:BC</tspan></text>
<text x="1397" y="522.25">ABD<tspan class="s" dy="2">B:D</tspan><tspan dy="-2">:AC</tspan></text>
<text x="1397" y="535.7">ACD<tspan class="s" dy="2">A:C</tspan><tspan dy="-2">:BD</tspan></text>
<text x="1397" y="549.15">ACD<tspan class="s" dy="2">A:D</tspan><tspan dy="-2">:BC</tspan></text>
<text x="1397" y="562.6">ACD<tspan class="s" dy="2">C:D</tspan><tspan dy="-2">:AB</tspan></text>
<text x="1397" y="576.05">BCD<tspan class="s" dy="2">B:C</tspan><tspan dy="-2">:AD</tspan></text>
<text x="1397" y="589.5">BCD<tspan class="s" dy="2">B:D</tspan><tspan dy="-2">:AC</tspan></text>
<text x="1397" y="602.95">BCD<tspan class="s" dy="2">C:D</tspan><tspan dy="-2">:AB</tspan></text>
<text x="1335" y="575">ABC<tspan class="s" dy="2">A:B</tspan><tspan dy="-2">:AD</tspan></text>
<text x="1335" y="588.5">ABC<tspan class="s" dy="2">A:B</tspan><tspan dy="-2">:BD</tspan></text>
<text x="1335" y="602">ABC<tspan class="s" dy="2">A:C</tspan><tspan dy="-2">:AD</tspan></text>
<text x="1335" y="615.5">ABC<tspan class="s" dy="2">A:C</tspan><tspan dy="-2">:CD</tspan></text>
<text x="1335" y="629">ABC<tspan class="s" dy="2">B:C</tspan><tspan dy="-2">:BD</tspan></text>
<text x="1335" y="642.5">ABC<tspan class="s" dy="2">B:C</tspan><tspan dy="-2">:CD</tspan></text>
<text x="1335" y="656">ABD<tspan class="s" dy="2">A:B</tspan><tspan dy="-2">:AC</tspan></text>
<text x="1335" y="669.5">ABD<tspan class="s" dy="2">A:B</tspan><tspan dy="-2">:BC</tspan></text>
<text x="1335" y="683">ABD<tspan class="s" dy="2">A:D</tspan><tspan dy="-2">:AC</tspan></text>
<text x="1335" y="696.5">ABD<tspan class="s" dy="2">A:D</tspan><tspan dy="-2">:CD</tspan></text>
<text x="1335" y="710">ABD<tspan class="s" dy="2">B:D</tspan><tspan dy="-2">:BC</tspan></text>
<text x="1335" y="723.5">ABD<tspan class="s" dy="2">B:D</tspan><tspan dy="-2">:CD</tspan></text>
<text x="1335" y="737">ACD<tspan class="s" dy="2">A:C</tspan><tspan dy="-2">:AB</tspan></text>
<text x="1335" y="750.5">ACD<tspan class="s" dy="2">A:C</tspan><tspan dy="-2">:BC</tspan></text>
<text x="1335" y="764">ACD<tspan class="s" dy="2">A:D</tspan><tspan dy="-2">:AB</tspan></text>
<text x="1335" y="777.5">ACD<tspan class="s" dy="2">A:D</tspan><tspan dy="-2">:BD</tspan></text>
<text x="1335" y="791">ACD<tspan class="s" dy="2">C:B</tspan><tspan dy="-2">:BD</tspan></text>
<text x="1335" y="804.5">ACD<tspan class="s" dy="2">C:D</tspan><tspan dy="-2">:BC</tspan></text>
<text x="1335" y="818">BCD<tspan class="s" dy="2">B:C</tspan><tspan dy="-2">:AB</tspan></text>
<text x="1335" y="831.5">BCD<tspan class="s" dy="2">B:C</tspan><tspan dy="-2">:AC</tspan></text>
<text x="1335" y="845">BCD<tspan class="s" dy="2">B:D</tspan><tspan dy="-2">:AB</tspan></text>
<text x="1335" y="858.5">BCD<tspan class="s" dy="2">B:D</tspan><tspan dy="-2">:AD</tspan></text>
<text x="1335" y="872">BCD<tspan class="s" dy="2">C:D</tspan><tspan dy="-2">:AC</tspan></text>
<text x="1335" y="885.5">BCD<tspan class="s" dy="2">C:D</tspan><tspan dy="-2">:AD</tspan></text>
<text x="1273" y="702">ABC<tspan class="s" dy="2">A:B</tspan></text>
<text x="1273" y="715.6">ABC<tspan class="s" dy="2">A:C</tspan></text>
<text x="1273" y="729.2">ABC<tspan class="s" dy="2">A:D</tspan></text>
<text x="1273" y="742.8">ABC<tspan class="s" dy="2">B:C</tspan></text>
<text x="1273" y="756.4">ABC<tspan class="s" dy="2">B:D</tspan></text>
<text x="1273" y="770">ABC<tspan class="s" dy="2">C:D</tspan></text>
</g>
</g>
</svg>
